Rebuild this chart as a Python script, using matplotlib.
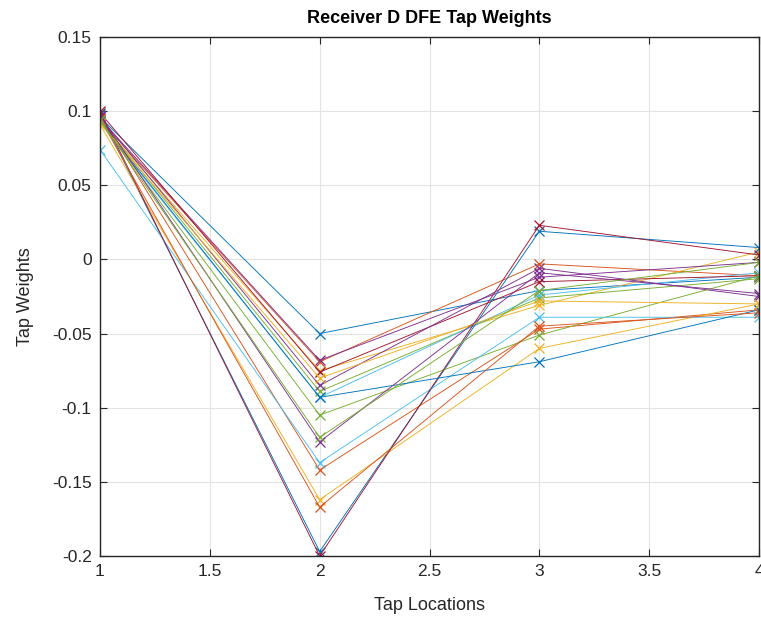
import numpy as np
import matplotlib.pyplot as plt

plt.rcParams['font.family'] = ['Liberation Sans', 'DejaVu Sans']

# DFE tap positions and the weights of each adapted receiver run
taps = [1, 2, 3, 4]
run_01 = [0.096, -0.050, -0.021, -0.012]
run_02 = [0.094, -0.069, -0.003, -0.011]
run_03 = [0.093, -0.075, -0.031, 0.005]
run_04 = [0.095, -0.068, -0.012, -0.002]
run_05 = [0.094, -0.089, -0.026, -0.013]
run_06 = [0.092, -0.093, -0.024, -0.009]
run_07 = [0.099, -0.076, -0.015, -0.011]
run_08 = [0.098, -0.197, 0.019, 0.008]
run_09 = [0.097, -0.142, -0.047, -0.034]
run_10 = [0.091, -0.162, -0.060, -0.030]
run_11 = [0.096, -0.085, -0.006, -0.025]
run_12 = [0.093, -0.105, -0.051, -0.011]
run_13 = [0.074, -0.137, -0.039, -0.039]
run_14 = [0.100, -0.200, 0.023, 0.003]
run_15 = [0.093, -0.093, -0.069, -0.034]
run_16 = [0.095, -0.167, -0.045, -0.036]
run_17 = [0.092, -0.080, -0.028, -0.030]
run_18 = [0.097, -0.123, -0.009, -0.023]
run_19 = [0.094, -0.120, -0.021, -0.002]

runs = [run_01, run_02, run_03, run_04, run_05, run_06, run_07,
        run_08, run_09, run_10, run_11, run_12, run_13, run_14,
        run_15, run_16, run_17, run_18, run_19]

# MATLAB default line color order
colors = ['#0072BD', '#D95319', '#EDB120', '#7E2F8E',
          '#77AC30', '#4DBEEE', '#A2142F']

fig = plt.figure(figsize=(7.61, 6.21), dpi=100)
ax = fig.add_axes([100 / 761, 65 / 621, 659 / 761, 519 / 621])

for i, w in enumerate(runs):
    ax.plot(taps, w, color=colors[i % len(colors)], linewidth=0.65,
            marker='x', markersize=6.5, markeredgewidth=0.9)

ax.set_xlim(1, 4)
ax.set_ylim(-0.2, 0.15)
ax.set_xticks(np.arange(1, 4.01, 0.5))
ax.set_xticklabels(['1', '1.5', '2', '2.5', '3', '3.5', '4'])
ax.set_yticks(np.arange(-0.2, 0.151, 0.05))
ax.set_yticklabels(['-0.2', '-0.15', '-0.1', '-0.05', '0', '0.05', '0.1', '0.15'])

ax.grid(True, color='#e3e3e3', linewidth=0.8)
ax.set_axisbelow(True)
ax.tick_params(direction='in', length=5, width=0.8, labelsize=12.5,
               colors='#262626', top=True, right=True, pad=6)
for s in ax.spines.values():
    s.set_color('#262626')
    s.set_linewidth(1.0)

ax.set_xlabel('Tap Locations', fontsize=13, color='#262626', labelpad=13)
ax.set_ylabel('Tap Weights', fontsize=13, color='#262626', labelpad=13)
ax.set_title('Receiver D DFE Tap Weights', fontsize=13, fontweight='bold', pad=10)

fig.savefig('out.png', dpi=100)
